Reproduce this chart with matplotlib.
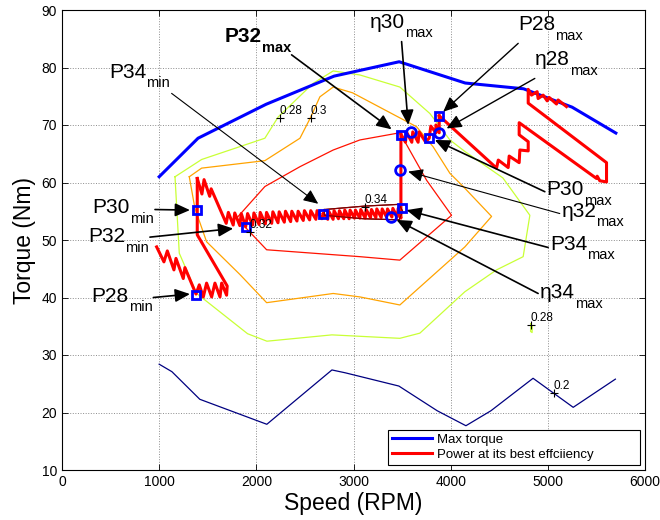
import matplotlib
matplotlib.use("Agg")
import matplotlib.pyplot as plt

plt.rcParams['font.family'] = ['Liberation Sans', 'DejaVu Sans']

# max torque curve
mt_speed = [1000, 1400, 2100, 2800, 3470, 4150, 4750, 5250, 5700]
mt_torque = [61.0, 67.7, 73.6, 78.5, 81.0, 77.3, 76.3, 73.1, 68.6]

# efficiency contours (level -> polyline)
c20_speed = [1000, 1131, 1418, 2108, 2778, 2916, 3467, 3862, 4157, 4414, 4848, 5261, 5695]
c20_torque = [28.4, 27.1, 22.3, 17.95, 27.4, 26.9, 24.6, 20.3, 17.7, 20.3, 25.95, 20.9, 25.8]

c28_speed = [1163, 1437, 2088, 2225, 2585, 2791, 3066, 3477, 3786, 3992, 4146, 4537,
             4815, 4746, 4472, 4146, 3683, 3477, 2778, 2109, 1910, 1386, 1207, 1163]
c28_torque = [61.0, 64.0, 67.7, 71.4, 77.25, 79.4, 78.7, 76.6, 72.0, 67.4, 65.4, 60.8,
              54.3, 47.1, 44.8, 41.0, 33.8, 32.9, 33.5, 32.4, 33.7, 40.7, 47.7, 61.0]
c28b_speed = [4825, 4840, 4838, 4822, 4825]
c28b_torque = [35.4, 35.0, 33.9, 34.1, 35.4]

c30_speed = [1310, 1437, 2088, 2449, 2558, 2654, 2791, 2990, 3649, 3820, 3992, 4129,
             4421, 4146, 3477, 3066, 2791, 2106, 1831, 1488, 1368, 1310]
c30_torque = [61.0, 62.5, 63.8, 67.7, 71.3, 74.9, 76.6, 75.6, 69.7, 66.2, 61.6, 59.3,
              54.1, 48.8, 38.7, 40.1, 40.7, 39.1, 44.0, 49.7, 55.5, 61.0]

c32_speed = [1797, 2088, 2449, 2791, 3066, 3477, 3529, 3752, 4009, 3477, 3066, 2106, 1797]
c32_torque = [53.8, 59.3, 62.75, 65.65, 67.4, 68.65, 67.1, 60.4, 54.3, 46.5, 47.1, 48.3, 53.8]

c34_speed = [2700, 3117, 3470, 3505, 3470, 3100, 2700, 2700]
c34_torque = [55.3, 55.9, 56.2, 55.0, 53.5, 53.7, 54.3, 55.3]

# contour colours (matlab jet for levels 0.2 .. 0.34)
col_20 = (0.0, 0.0, 0.5)
col_28 = (0.79, 1.0, 0.21)
col_30 = (1.0, 0.64, 0.0)
col_32 = (1.0, 0.07, 0.0)
col_34 = (0.5, 0.0, 0.0)

# contour labels
clab_text = ['0.28', '0.3', '0.32', '0.34', '0.28', '0.2']
clab_speed = [2243, 2558, 1934, 3117, 4825, 5062]
clab_torque = [71.3, 71.3, 51.4, 55.8, 35.2, 23.4]

# power at its best efficiency
red_low_speed = [974, 1049, 1084, 1152, 1173, 1248, 1265, 1379, 1413, 1454, 1488, 1540,
                 1574, 1626, 1643, 1694, 1700, 1392, 1392]
red_low_torque = [48.8, 46.2, 48.1, 44.8, 46.8, 43.3, 45.2, 40.6, 42.2, 40.1, 42.5, 40.1,
                  42.5, 40.1, 42.5, 40.4, 42.0, 50.9, 60.7]

red_top_speed = [1392, 1440, 1462, 1520, 1535, 1690, 1712, 1762, 1778, 1830, 1845, 1890,
                 1910, 1962, 1975, 2028, 2040, 2093, 2105, 2158, 2170, 2223, 2235, 2288,
                 2300, 2353, 2365, 2418, 2430, 2483, 2495, 2548, 2560, 2613, 2625, 2675, 2689]
red_top_torque = [60.7, 58.0, 60.5, 57.6, 58.9, 52.9, 54.8, 52.6, 54.7, 52.5, 54.6, 52.3,
                  54.6, 52.6, 54.7, 52.7, 54.8, 52.8, 54.8, 52.9, 54.9, 53.0, 54.9, 53.1,
                  55.0, 53.2, 55.0, 53.3, 55.0, 53.4, 55.1, 53.5, 55.1, 53.6, 55.1, 53.7, 54.6]

red_34_speed = [2689, 2735, 2745, 2790, 2800, 2845, 2855, 2900, 2910, 2955, 2965, 3010,
                3020, 3065, 3075, 3120, 3130, 3175, 3185, 3230, 3240, 3285, 3295, 3340,
                3350, 3395, 3405, 3450, 3460, 3488, 3488]
red_34_torque = [54.6, 53.6, 55.0, 53.6, 55.1, 53.7, 55.1, 53.7, 55.2, 53.7, 55.2, 53.8,
                 55.2, 53.8, 55.3, 53.8, 55.3, 53.9, 55.3, 53.9, 55.4, 53.9, 55.4, 54.0,
                 55.4, 54.0, 55.5, 54.0, 55.5, 53.8, 68.4]

red_n_speed = [3488, 3535, 3545, 3600, 3610, 3665, 3675, 3740, 3779, 3796, 3848, 3848, 3882, 3882]
red_n_torque = [68.4, 67.0, 68.8, 67.0, 68.8, 67.0, 68.8, 67.1, 67.7, 69.8, 68.65, 70.0, 68.65, 71.6]

red_right_speed = [3882, 4472, 4490, 4592, 4602, 4705, 4712, 4798, 4798, 4705, 4705, 5501,
                   5508, 5535, 5604, 5604, 4798, 4798, 4832, 4890, 4900, 4952, 4993, 5013,
                   5089, 5106, 5192]
red_right_torque = [71.6, 62.5, 63.9, 62.6, 64.6, 63.45, 65.65, 65.5, 67.1, 68.3, 70.4, 60.7,
                    61.1, 60.3, 60.1, 63.45, 73.8, 76.2, 75.2, 75.8, 74.6, 75.2, 74.2, 74.8,
                    73.65, 74.35, 73.2]

# max power points (squares) and max efficiency points (circles)
p_speed = [1379, 1392, 1890, 2689, 3494, 3488, 3779, 3882]
p_torque = [40.5, 55.2, 52.3, 54.6, 55.5, 68.3, 67.7, 71.6]
eta_speed = [3381, 3480, 3590, 3882]
eta_torque = [54.05, 62.2, 68.75, 68.65]

# annotation labels: text, subscript, weight, text pos (left, baseline), arrow tail, arrow tip, lw
ann = [
    ('P34', 'min', 'normal', 484, 78.2, 1128, 75.5, 2637, 56.3, 0.8),
    ('P32', 'max', 'bold', 1677, 84.4, 2363, 82.2, 3392, 69.25, 1.2),
    ('P30', 'min', 'normal', 316, 54.7, 957, 55.3, 1317, 55.2, 1.2),
    ('P32', 'min', 'normal', 267, 49.65, 905, 50.5, 1762, 52.0, 1.2),
    ('P28', 'min', 'normal', 306, 39.3, 940, 40.0, 1317, 40.6, 1.2),
    ('\u03b730', 'max', 'normal', 3169, 86.9, 3495, 84.5, 3563, 70.0, 1.2),
    ('P28', 'max', 'normal', 4691, 86.5, 4695, 84.2, 3923, 72.3, 1.0),
    ('\u03b728', 'max', 'normal', 4866, 80.4, 4866, 78.1, 3958, 69.4, 1.0),
    ('P30', 'max', 'normal', 4987, 57.8, 4969, 58.4, 3837, 67.4, 1.2),
    ('\u03b732', 'max', 'normal', 5141, 54.05, 5123, 54.6, 3563, 61.9, 0.8),
    ('P34', 'max', 'normal', 5021, 48.3, 5003, 48.7, 3546, 55.2, 1.2),
    ('\u03b734', 'max', 'normal', 4918, 39.9, 4900, 40.7, 3443, 53.5, 1.2),
]

fig = plt.figure(figsize=(6.6, 5.2), dpi=100)
ax = fig.add_axes([62 / 660, 50 / 520, 583 / 660, 460 / 520])

contours = [(c20_speed, c20_torque, col_20), (c28_speed, c28_torque, col_28),
            (c28b_speed, c28b_torque, col_28), (c30_speed, c30_torque, col_30),
            (c32_speed, c32_torque, col_32), (c34_speed, c34_torque, col_34)]
for xs, ys, c in contours:
    ax.plot(xs, ys, color=c, lw=0.9, zorder=2)

for t, xs, ys in zip(clab_text, clab_speed, clab_torque):
    ax.plot(xs, ys, '+', color='k', ms=6, mew=0.8, zorder=6)
    ax.annotate(t, (xs, ys), xytext=(0, 0.5), textcoords='offset points',
                fontsize=8.5, ha='left', va='bottom', zorder=6)

ax.plot(mt_speed, mt_torque, color='blue', lw=2.2, zorder=3, label='Max torque')

red_segments = [(red_low_speed, red_low_torque), (red_top_speed, red_top_torque),
                (red_34_speed, red_34_torque), (red_n_speed, red_n_torque),
                (red_right_speed, red_right_torque)]
for i, (xs, ys) in enumerate(red_segments):
    ax.plot(xs, ys, color='red', lw=2.2, zorder=4,
            label='Power at its best effciiency' if i == 0 else None)
ax.plot(c34_speed, c34_torque, color=col_34, lw=0.8, zorder=4.5)

ax.plot(p_speed, p_torque, 's', ms=6, mfc='none', mec='blue', mew=2, zorder=5)
ax.plot(eta_speed, eta_torque, 'o', ms=7, mfc='none', mec='blue', mew=2, zorder=5)

for txt, sub, wt, tx, ty, ax0, ay0, ax1, ay1, lw in ann:
    ax.annotate('', xy=(ax1, ay1), xytext=(ax0, ay0),
                arrowprops=dict(arrowstyle='-|>,head_length=0.9,head_width=0.4',
                                color='k', lw=lw, shrinkA=0, shrinkB=0,
                                mutation_scale=10), zorder=7)
    main = ax.text(tx, ty, txt, fontsize=15, fontweight=wt, ha='left', va='baseline', zorder=8)
    ax.annotate(sub, xy=(1, 0), xycoords=main, xytext=(0, -4), textcoords='offset points',
                fontsize=10.5, fontweight=wt, ha='left', va='baseline', zorder=8)

ax.set_xlim(0, 6000)
ax.set_ylim(10, 90)
ax.set_xticks(range(0, 6001, 1000))
ax.set_yticks(range(10, 91, 10))
ax.tick_params(direction='in', top=True, right=True, length=4, width=0.6, labelsize=10)
ax.grid(True, linestyle=':', color='0.55', lw=0.7)
ax.set_axisbelow(True)
for s in ax.spines.values():
    s.set_linewidth(0.8)
ax.set_xlabel('Speed (RPM)', fontsize=16.5, labelpad=2)
ax.set_ylabel('Torque (Nm)', fontsize=16.5, labelpad=4)

leg = ax.legend(loc='lower left', bbox_to_anchor=(0.56, 0.011, 0.4314, 0.08), mode='expand',
                borderaxespad=0, fontsize=9.5, handlelength=3, handletextpad=0.4,
                labelspacing=0.2, borderpad=0.3, fancybox=False, framealpha=1,
                edgecolor='k')
leg.get_frame().set_linewidth(0.8)

fig.savefig('out.png', dpi=100)
